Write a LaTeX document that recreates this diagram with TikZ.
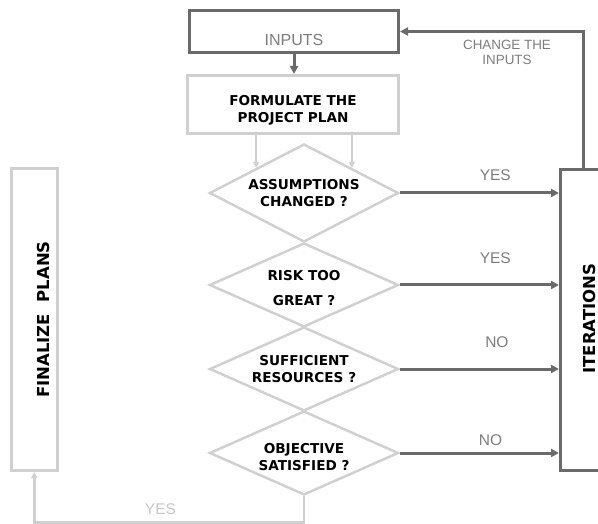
\documentclass[tikz,border=0pt]{standalone}
\usepackage{fontspec}
\setmainfont{Liberation Sans}
\newfontfamily\verdanafont{DejaVu Sans}
\usepackage{tikz}
\usetikzlibrary{positioning, shapes, arrows.meta, calc}

\definecolor{darkline}{HTML}{6A6A6A}
\definecolor{lightline}{HTML}{D0D0D0}
\definecolor{labelgray}{HTML}{7C7C7C}
\definecolor{faintgray}{HTML}{C6C6C6}

\begin{document}
\begin{tikzpicture}[x=1pt, y=-1pt,
    darkbox/.style={draw=darkline, line width=3pt, inner sep=0pt},
    lightbox/.style={draw=lightline, line width=3pt, inner sep=0pt},
    decision/.style={diamond, draw=lightline, line width=2.5pt, minimum width=189pt, minimum height=84pt, inner sep=0pt},
    boldtext/.style={font=\verdanafont\bfseries\fontsize{13.6}{16.5}\selectfont, align=center, text=black},
    bigtext/.style={font=\verdanafont\bfseries\fontsize{16.5}{18}\selectfont, text=black, rotate=90},
    graytext/.style={font=\fontsize{15.5}{18}\selectfont, text=labelgray},
    darkarrow/.style={draw=darkline, line width=3pt, -{Triangle[length=8pt,width=8pt]}},
    lightarrow/.style={draw=lightline, line width=2pt, -{Triangle[length=6pt,width=6pt]}}]
                  \useasboundingbox (0,0) rectangle (598,524);

                  % Boxes
                  \node[darkbox, minimum width=209pt, minimum height=42pt,
                        label={[graytext, font=\fontsize{16}{18}\selectfont, yshift=-8pt]center:INPUTS}] (inputs) at (294,31.5) {};
                  \node[lightbox, minimum width=211pt, minimum height=58pt,
                        label={[boldtext, yshift=-6pt]center:FORMULATE THE\\PROJECT PLAN}] (plan) at (293,104.5) {};
                  \node[darkbox, minimum width=64pt, minimum height=301pt,
                        label={[xshift=-3pt, yshift=1.5pt, bigtext]center:ITERATIONS}] (iterations) at (592.5,320) {};
                  \node[lightbox, minimum width=45.5pt, minimum height=302pt,
                        label={[xshift=9pt, bigtext]center:FINALIZE\ \ PLANS}] (finalize) at (34.25,319.5) {};

                  % Decisions
                  \node[decision, minimum height=98pt,
                        label={[boldtext]center:ASSUMPTIONS\\CHANGED ?}] (assume) at (304,193) {};
                  \node[decision,
                        label={[boldtext, yshift=-3pt]center:RISK TOO\\[8pt]GREAT ?}] (risk) at (304,285) {};
                  \node[decision,
                        label={[boldtext]center:SUFFICIENT\\RESOURCES ?}] (resource) at (304,369) {};
                  \node[decision,
                        label={[boldtext, yshift=-4pt]center:OBJECTIVE\\SATISFIED ?}] (objective) at (304,453) {};

                  % Arrows
                  \draw[darkarrow] (inputs.south) -- (inputs.south |- plan.north);
                  \draw[lightarrow] (assume.north west |- plan.south) -- (assume.north west);
                  \draw[lightarrow] (assume.north east |- plan.south) -- (assume.north east);

                  \draw[darkarrow] (assume.east) -- (assume.east -| iterations.west)
                        node[graytext, pos=.6, yshift=18pt] {YES};
                  \draw[darkarrow] (risk.east) -- (risk.east -| iterations.west)
                        node[graytext, pos=.6, yshift=27pt] {YES};
                  \draw[darkarrow] (resource.east) -- (resource.east -| iterations.west)
                        node[graytext, pos=.61, yshift=27pt] {NO};
                  \draw[darkarrow] (objective.east) -- (objective.east -| iterations.west)
                        node[graytext, pos=.57, yshift=13pt] {NO};

                  \draw[darkarrow] ([xshift=-9pt]iterations.north) |- (inputs.east);
                  \node[graytext, font=\fontsize{13.4}{15}\selectfont, align=center] (change) at (507,52) {CHANGE THE\\INPUTS};

                  \draw[lightarrow, line width=2.5pt] (objective.south) -- ++(0,26) -| (finalize.south)
                        node[pos=.266, yshift=13pt, text=faintgray, font=\fontsize{15.5}{18}\selectfont] {YES};

              \end{tikzpicture}
\end{document}
